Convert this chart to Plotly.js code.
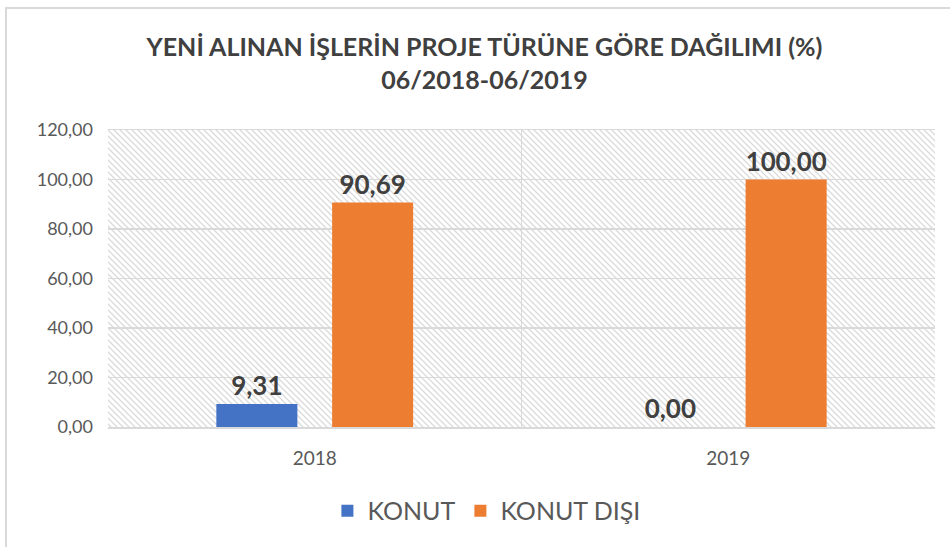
<!DOCTYPE html>
<html>
<head>
<meta charset="utf-8">
<script src="https://cdn.plot.ly/plotly-3.0.1.min.js"></script>
<style>
  html, body { margin: 0; padding: 0; background: #fff; overflow: hidden; }
  #wrap { position: relative; width: 950px; height: 547px; }
  #chart { width: 950px; height: 547px; }
  #frame { position: absolute; left: 5px; top: 7px; width: 980px; height: 580px;
           border: 2px solid #d9d9d9; pointer-events: none; box-sizing: border-box; }
</style>
</head>
<body>
<div id="wrap"><div id="chart"></div><div id="frame"></div></div>
<script>
const categories = ['2018', '2019'];
const konut = [9.31, 0.00];
const konutDisi = [90.69, 100.00];
const seriesNames = ['KONUT', 'KONUT DIŞI'];
const titleLines = ['YENİ ALINAN İŞLERİN PROJE TÜRÜNE GÖRE DAĞILIMI (%)', '06/2018-06/2019'];

const font = 'Lato, "Open Sans", sans-serif';

const hatchSvg = '<svg xmlns="http://www.w3.org/2000/svg" width="827" height="297">' +
  '<defs><pattern id="p" patternUnits="userSpaceOnUse" width="6" height="6">' +
  '<path d="M-1,-1 L7,7 M-1,5 L1,7 M5,-1 L7,1" stroke="#dadada" stroke-width="1.3"/>' +
  '</pattern></defs><rect width="827" height="297" fill="url(#p)"/></svg>';
const hatchUri = 'data:image/svg+xml;charset=utf-8,' + encodeURIComponent(hatchSvg);

const labelFont = { family: font, size: 26, color: '#404040', weight: 'bold' };

const traces = [
  {
    type: 'bar', name: seriesNames[0], x: categories, y: konut,
    marker: { color: '#4472C4' },
    texttemplate: '<b>%{y:.2f}</b>', textposition: 'outside', textfont: labelFont,
    cliponaxis: false, hoverinfo: 'skip'
  },
  {
    type: 'bar', name: seriesNames[1], x: categories, y: konutDisi,
    marker: { color: '#ED7D31' },
    texttemplate: '<b>%{y:.2f}</b>', textposition: 'outside', textfont: labelFont,
    cliponaxis: false, hoverinfo: 'skip'
  }
];

const layout = {
  width: 950, height: 547,
  margin: { l: 108, r: 15, t: 130, b: 120 },
  paper_bgcolor: '#ffffff', plot_bgcolor: 'rgba(0,0,0,0)',
  separators: ',.',
  font: { family: font, color: '#595959' },
  title: {
    text: '<b>' + titleLines[0] + '<br>' + titleLines[1] + '</b>',
    font: { family: font, size: 25, color: '#404040' },
    x: 0.51, xref: 'container', xanchor: 'center',
    y: 0.897, yref: 'container', yanchor: 'middle'
  },
  barmode: 'group', bargap: 0.44, bargroupgap: 0.30,
  showlegend: true,
  legend: {
    orientation: 'h', xref: 'container', yref: 'container',
    x: 0.512, xanchor: 'center', y: 0.066, yanchor: 'middle',
    font: { family: font, size: 25, color: '#595959' },
    itemwidth: 30
  },
  xaxis: {
    type: 'category', tickson: 'boundaries', showgrid: true,
    gridcolor: '#d9d9d9', gridwidth: 1.5,
    showline: true, linecolor: '#d9d9d9', linewidth: 1.5, mirror: true,
    ticks: '', ticklabelstandoff: 14,
    tickfont: { family: font, size: 19, color: '#595959' },
    zeroline: false
  },
  yaxis: {
    range: [0, 120], dtick: 20, tickformat: '.2f',
    showgrid: true, gridcolor: '#d9d9d9', gridwidth: 1.5,
    showline: false, zeroline: false,
    ticks: '', ticklabelstandoff: 14,
    tickfont: { family: font, size: 18, color: '#595959' }
  },
  images: [{
    source: hatchUri, xref: 'paper', yref: 'paper',
    x: 0, y: 1, sizex: 1, sizey: 1, xanchor: 'left', yanchor: 'top',
    sizing: 'stretch', layer: 'below'
  }]
};

Plotly.newPlot('chart', traces, layout, { displayModeBar: false, staticPlot: true });
</script>
</body>
</html>
